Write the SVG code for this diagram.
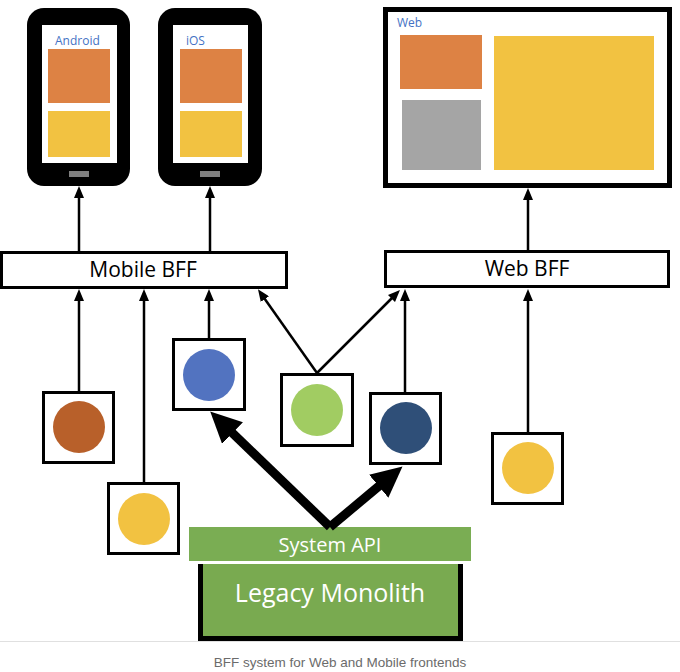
<svg xmlns="http://www.w3.org/2000/svg" width="680" height="672" viewBox="0 0 680 672">
<style>
.phone{fill:#000}
.screen{fill:#fff}
.orange{fill:#dd8244}
.yellow{fill:#f2c241}
.grey{fill:#a5a5a5}
.btn{fill:#7f7f7f}
.lbl{font-family:"Open Sans","Liberation Sans",sans-serif;font-size:12px;fill:#4472c4}
.bff{fill:#fff;stroke:#000;stroke-width:3}
.bfftxt{font-family:"Open Sans","Liberation Sans",sans-serif;font-size:21px;fill:#000;text-anchor:middle}
.svc{fill:#fff;stroke:#000;stroke-width:3}
.thin{stroke:#000;stroke-width:2.5;fill:none;marker-end:url(#ah)}
.thick{stroke:#000;stroke-width:9;fill:none;marker-end:url(#AH)}
.wtxt{font-family:"Open Sans","Liberation Sans",sans-serif;fill:#fff;text-anchor:middle}
</style>
<defs>
<marker id="ah" markerUnits="userSpaceOnUse" markerWidth="12" markerHeight="10" refX="5" refY="5" orient="auto">
<path d="M0,0 L12,5 L0,10 z" fill="#000"/>
</marker>
<marker id="AH" markerUnits="userSpaceOnUse" markerWidth="32" markerHeight="30" refX="16" refY="15" orient="auto">
<path d="M0,0 L31,15 L0,30 z" fill="#000"/>
</marker>
</defs>
<rect width="680" height="672" fill="#fff"/>

<g id="android">
<rect class="phone" x="27" y="8" width="103" height="178" rx="17"/>
<rect class="screen" x="42" y="25" width="75" height="138"/>
<text class="lbl" x="55" y="45">Android</text>
<rect class="orange" x="48" y="49" width="62" height="54"/>
<rect class="yellow" x="48" y="111" width="62" height="46"/>
<rect class="btn" x="69" y="171" width="20" height="6"/>
</g>

<g id="ios">
<rect class="phone" x="158" y="8" width="104" height="178" rx="17"/>
<rect class="screen" x="173" y="25" width="75" height="138"/>
<text class="lbl" x="186" y="45">iOS</text>
<rect class="orange" x="180" y="49" width="62" height="54"/>
<rect class="yellow" x="180" y="111" width="62" height="46"/>
<rect class="btn" x="200" y="171" width="20" height="6"/>
</g>

<g id="web">
<rect x="385.5" y="9.5" width="284" height="176" fill="#fff" stroke="#000" stroke-width="5"/>
<text class="lbl" x="397" y="27">Web</text>
<rect class="orange" x="400" y="35" width="82" height="54"/>
<rect class="grey" x="402" y="100" width="79" height="70"/>
<rect class="yellow" x="494" y="36" width="160" height="134"/>
</g>

<g id="mobile-bff">
<rect class="bff" x="1.5" y="252.5" width="285" height="35"/>
<text class="bfftxt" x="143" y="277">Mobile BFF</text>
</g>

<g id="web-bff">
<rect class="bff" x="385.5" y="251.5" width="283" height="35"/>
<text class="bfftxt" x="527" y="276">Web BFF</text>
</g>

<g id="svc-brown">
<rect class="svc" x="43.5" y="392.5" width="70" height="70"/>
<circle cx="79" cy="427" r="26" fill="#b8602a"/>
</g>
<g id="svc-yellow1">
<rect class="svc" x="108.5" y="483.5" width="70" height="70"/>
<circle cx="144" cy="519" r="26" fill="#f2c241"/>
</g>
<g id="svc-blue">
<rect class="svc" x="173.5" y="339.5" width="71" height="70"/>
<circle cx="209" cy="375" r="26" fill="#5273c0"/>
</g>
<g id="svc-green">
<rect class="svc" x="281.5" y="374.5" width="71" height="71"/>
<circle cx="317" cy="410" r="26" fill="#a1cc62"/>
</g>
<g id="svc-darkblue">
<rect class="svc" x="370.5" y="393.5" width="70" height="70"/>
<circle cx="406" cy="428" r="26" fill="#2f4f78"/>
</g>
<g id="svc-yellow2">
<rect class="svc" x="492.5" y="433.5" width="70" height="70"/>
<circle cx="528" cy="468" r="26" fill="#f2c241"/>
</g>

<g id="system-api">
<rect x="189" y="527" width="282" height="34" fill="#7aad53"/>
<text class="wtxt" x="330" y="552" font-size="20">System API</text>
</g>

<g id="legacy-monolith">
<rect x="198" y="564" width="265" height="77" fill="#79aa50"/>
<path d="M200.5,564 V638.5 H460.5 V564" fill="none" stroke="#000" stroke-width="5"/>
<text class="wtxt" x="330" y="602" font-size="25">Legacy Monolith</text>
</g>

<g id="connectors">
<line class="thin" x1="79" y1="251" x2="79" y2="193"/>
<line class="thin" x1="210" y1="251" x2="210" y2="193"/>
<line class="thin" x1="528" y1="250" x2="528" y2="195"/>
<line class="thin" x1="79" y1="391" x2="79" y2="296"/>
<line class="thin" x1="144" y1="482" x2="144" y2="296"/>
<line class="thin" x1="209" y1="338" x2="209" y2="296"/>
<line class="thin" x1="317" y1="373" x2="262" y2="295"/>
<line class="thin" x1="317" y1="373" x2="395" y2="295"/>
<line class="thin" x1="405" y1="392" x2="405" y2="296"/>
<line class="thin" x1="528" y1="432" x2="528" y2="296"/>
<line class="thick" x1="330" y1="527" x2="221" y2="422"/>
<line class="thick" x1="330" y1="527" x2="391" y2="476"/>
</g>

<line x1="0" y1="641.5" x2="680" y2="641.5" stroke="#e0e0e0" stroke-width="1"/>
<text x="340" y="667" font-family="'Liberation Sans',Arial,sans-serif" font-size="13.5" fill="#6b6b6b" text-anchor="middle">BFF system for Web and Mobile frontends</text>
</svg>
